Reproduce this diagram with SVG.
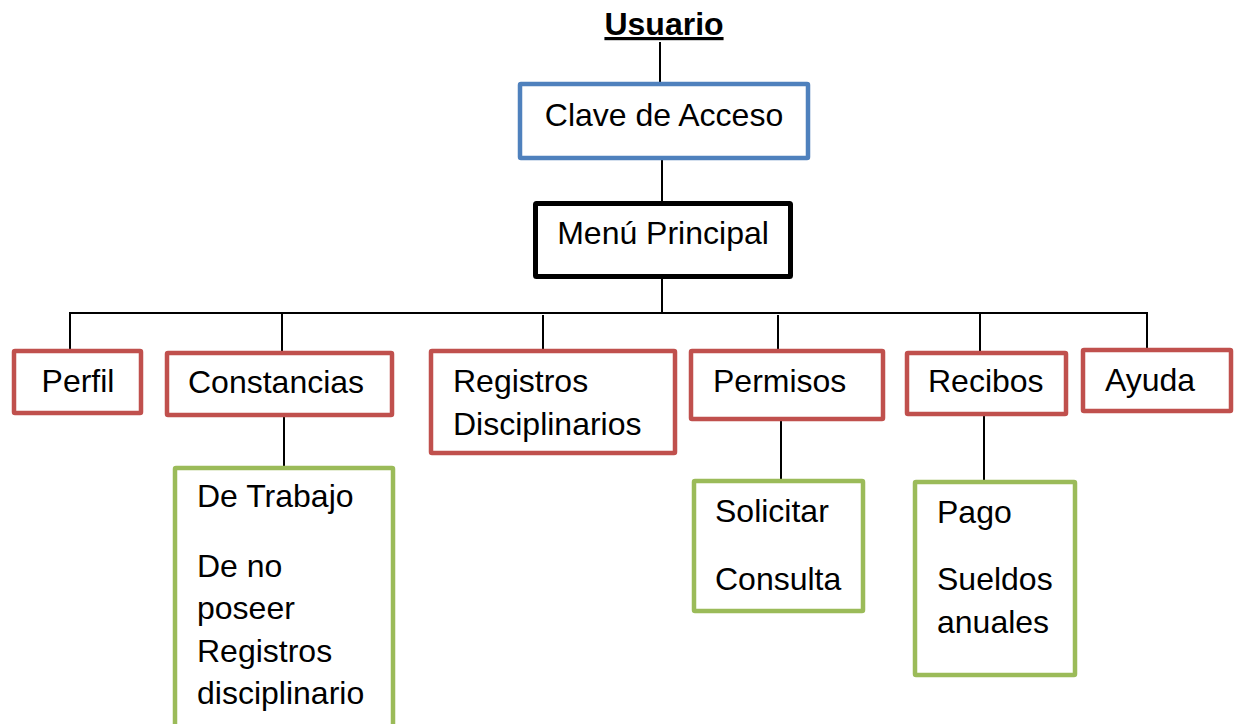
<svg xmlns="http://www.w3.org/2000/svg" width="1239" height="724" viewBox="0 0 1239 724">
<style>
text{font-family:"Liberation Sans",Arial,sans-serif;font-size:32px;fill:#000}
.t{font-weight:bold;text-decoration:underline}
.red{fill:#fff;stroke:#C0504D;stroke-width:4.5}
.green{fill:#fff;stroke:#9BBB59;stroke-width:4.5}
.blue{fill:#fff;stroke:#4F81BD;stroke-width:4.5}
.black{fill:#fff;stroke:#000;stroke-width:5}
.c line{stroke:#000;stroke-width:2}
</style>
<rect width="1239" height="724" fill="#fff"/>
<g class="c" id="connectors">
<line x1="660" y1="42" x2="660" y2="84"/>
<line x1="662" y1="160" x2="662" y2="203"/>
<line x1="662" y1="279" x2="662" y2="313"/>
<line x1="69" y1="313" x2="1148" y2="313"/>
<line x1="70" y1="313" x2="70" y2="351"/>
<line x1="282" y1="314" x2="282" y2="353"/>
<line x1="543" y1="315" x2="543" y2="351"/>
<line x1="778" y1="315" x2="778" y2="351"/>
<line x1="980" y1="313" x2="980" y2="353"/>
<line x1="1147" y1="313" x2="1147" y2="350"/>
<line x1="284" y1="417" x2="284" y2="468"/>
<line x1="781" y1="421" x2="781" y2="481"/>
<line x1="984" y1="416" x2="984" y2="482"/>
</g>
<g id="usuario"><text class="t" x="664" y="35" text-anchor="middle">Usuario</text></g>
<g id="clave"><rect class="blue" x="520" y="84" width="288" height="74" rx="1"/><text x="664" y="126" text-anchor="middle">Clave de Acceso</text></g>
<g id="menu"><rect class="black" x="535.5" y="203.5" width="255" height="73" rx="1"/><text x="663" y="244" text-anchor="middle">Menú Principal</text></g>
<g id="perfil"><rect class="red" x="14" y="351" width="127" height="62" rx="1"/><text x="78" y="392" text-anchor="middle">Perfil</text></g>
<g id="constancias"><rect class="red" x="167" y="353" width="225" height="62" rx="1"/><text x="188" y="393">Constancias</text></g>
<g id="registros"><rect class="red" x="431" y="351" width="244" height="102" rx="1"/><text x="453" y="392">Registros</text><text x="453" y="435">Disciplinarios</text></g>
<g id="permisos"><rect class="red" x="691" y="351" width="192" height="68" rx="1"/><text x="713" y="392">Permisos</text></g>
<g id="recibos"><rect class="red" x="907" y="353" width="159" height="61" rx="1"/><text x="928" y="392">Recibos</text></g>
<g id="ayuda"><rect class="red" x="1083" y="350" width="148" height="61" rx="1"/><text x="1105" y="391">Ayuda</text></g>
<g id="constancias-sub"><rect class="green" x="175" y="468" width="218" height="280" rx="1"/>
<text x="197" y="507">De Trabajo</text><text x="197" y="577">De no</text><text x="197" y="619">poseer</text><text x="197" y="662">Registros</text><text x="197" y="704">disciplinario</text></g>
<g id="permisos-sub"><rect class="green" x="694" y="481" width="169" height="130" rx="1"/>
<text x="715" y="522">Solicitar</text><text x="715" y="590">Consulta</text></g>
<g id="recibos-sub"><rect class="green" x="915" y="482" width="160" height="193" rx="1"/>
<text x="937" y="523">Pago</text><text x="937" y="590">Sueldos</text><text x="937" y="633">anuales</text></g>
</svg>
